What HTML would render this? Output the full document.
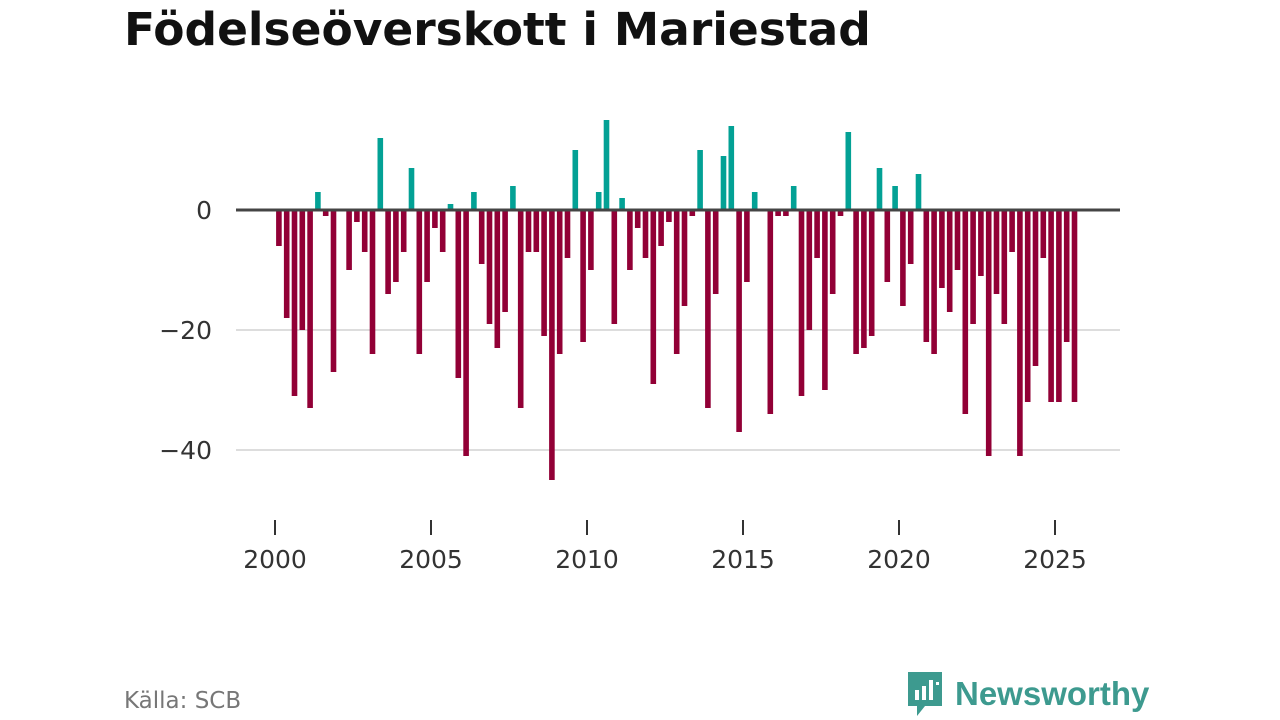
<!DOCTYPE html>
<html><head><meta charset="utf-8"><style>
body{margin:0;background:#fff;width:1280px;height:720px;overflow:hidden;font-family:"DejaVu Sans","Liberation Sans",sans-serif;}
#title{position:absolute;left:124px;top:3px;font-size:45.5px;font-weight:bold;color:#111;margin:0;letter-spacing:0px}
#src{position:absolute;left:124px;top:688px;font-size:23px;color:#777}
#logo{position:absolute;left:905px;top:670px;display:flex;align-items:center}
#logo span{font-size:33px;font-weight:bold;color:#3d9a8f;margin-left:10px;font-family:"Liberation Sans",sans-serif}
</style></head><body>
<h1 id="title">Födelseöverskott i Mariestad</h1>
<svg id="chart" width="1280" height="720" style="position:absolute;left:0;top:0"></svg>
<div id="src">Källa: SCB</div>
<div id="logo">
<svg width="40" height="48" viewBox="0 0 40 48"><path d="M3 2h34v34H20l-8 10v-10H3z" fill="#3d9a8f"/><rect x="10" y="20" width="4" height="10" fill="#fff"/><rect x="17" y="16" width="4" height="14" fill="#fff"/><rect x="24" y="10" width="4" height="20" fill="#fff"/><rect x="31" y="12" width="3" height="3" fill="#fff"/></svg>
<span>Newsworthy</span></div>
<script>
const startYear = 2000;
const values = [-6,-18,-31,-20,-33,3,-1,-27,0,-10,-2,-7,-24,12,-14,-12,-7,7,-24,-12,-3,-7,1,-28,-41,3,-9,-19,-23,-17,4,-33,-7,-7,-21,-45,-24,-8,10,-22,-10,3,15,-19,2,-10,-3,-8,-29,-6,-2,-24,-16,-1,10,-33,-14,9,14,-37,-12,3,0,-34,-1,-1,4,-31,-20,-8,-30,-14,-1,13,-24,-23,-21,7,-12,4,-16,-9,6,-22,-24,-13,-17,-10,-34,-19,-11,-41,-14,-19,-7,-41,-32,-26,-8,-32,-32,-22,-32];
const yTicks = [0,-20,-40];
const xTicks = [2000,2005,2010,2015,2020,2025];
const NS='http://www.w3.org/2000/svg';
const svg=document.getElementById('chart');
const x=t=>275+(t-2000)*31.2;
const y=v=>210-v*6;
function mk(tag,attrs){const e=document.createElementNS(NS,tag);for(const k in attrs)e.setAttribute(k,attrs[k]);svg.appendChild(e);return e;}
yTicks.forEach(t=>{
  if(t!==0){const g=mk('line',{x1:236,x2:1120,y1:y(t),y2:y(t),stroke:'#ddd','stroke-width':2});
  
  }
  const l=mk('text',{x:212,y:y(t)+9,'text-anchor':'end','font-size':25,fill:'#333','font-family':'DejaVu Sans, sans-serif'});
  l.textContent=t<0?'\u2212'+(-t):String(t);
  
  
});
values.forEach((v,i)=>{
  const cx=x(startYear+(i+0.5)/4);
  const r=mk('rect',{x:cx-2.8,width:5.6,y:Math.min(y(v),y(0)),height:Math.abs(y(v)-y(0)),fill:v>=0?'#03a195':'#920036'});
  
  
});
const z=mk('line',{x1:236,x2:1120,y1:y(0),y2:y(0),stroke:'#444','stroke-width':3});


xTicks.forEach(t=>{
  const tk=mk('line',{x1:x(t),x2:x(t),y1:520,y2:535,stroke:'#333','stroke-width':2});
  
  
  const l=mk('text',{x:x(t),y:568,'text-anchor':'middle','font-size':25,fill:'#333','font-family':'DejaVu Sans, sans-serif'});
  l.textContent=t;
  
  
});
</script>
</body></html>
